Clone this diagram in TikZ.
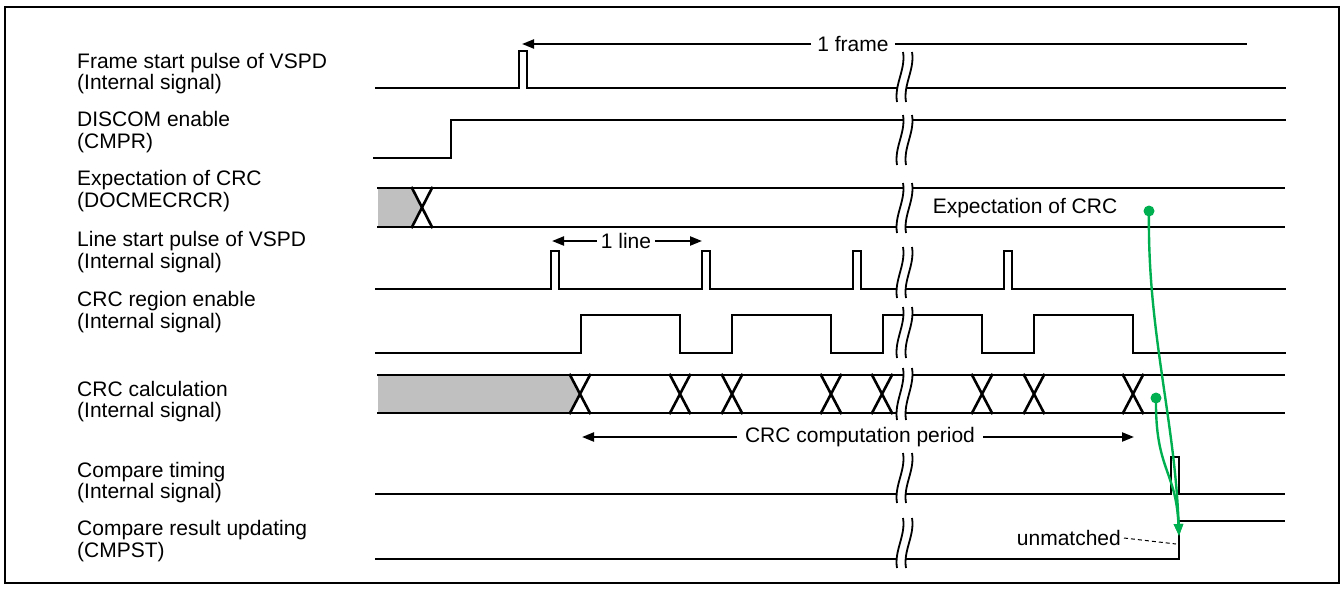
\documentclass[tikz,border=0pt]{standalone}
\usepackage{fontspec}
\setmainfont{Liberation Sans}
\usetikzlibrary{arrows.meta}
\definecolor{busgray}{RGB}{192,192,192}
\definecolor{linkgreen}{RGB}{0,176,80}
\tikzset{
  lbl/.style={anchor=west, align=left, inner sep=0pt, font=\fontsize{21}{21.5}\selectfont},
  txt/.style={inner sep=0pt, font=\fontsize{21}{21.5}\selectfont},
  sig/.style={line width=2.6pt, line join=miter, line cap=rect},
  dim/.style={line width=2.2pt, -{Triangle[length=12pt,width=9pt]}},
  dimplain/.style={line width=2.2pt},
  glink/.style={draw=linkgreen, line width=2.4pt, -{Triangle[length=12pt,width=9pt]}},
  gdot/.style={circle, fill=linkgreen, inner sep=0pt, minimum size=11pt},
}
% break mark across a waveform: two S-shaped strokes with a white gap between them
\newcommand\tbreak[3]{%
  \fill[white] (#1+1,#2) .. controls (#1+4,#2+0.35*#3-0.35*#2) and (#1-8,#2+0.65*#3-0.65*#2) .. (#1-5,#3)
    -- (#1+4,#3) .. controls (#1+1,#2+0.65*#3-0.65*#2) and (#1+13,#2+0.35*#3-0.35*#2) .. (#1+10,#2) -- cycle;
  \draw[line width=1.8pt] (#1+1,#2) .. controls (#1+4,#2+0.35*#3-0.35*#2) and (#1-8,#2+0.65*#3-0.65*#2) .. (#1-5,#3);
  \draw[line width=1.8pt] (#1+10,#2) .. controls (#1+13,#2+0.35*#3-0.35*#2) and (#1+1,#2+0.65*#3-0.65*#2) .. (#1+4,#3);
}
\begin{document}
\begin{tikzpicture}[x=1pt, y=-1pt]
\useasboundingbox (0,0) rectangle (1344,589);
\fill[white] (0,0) rectangle (1344,589);
\draw[line width=2.8pt] (5,7) rectangle (1339,583);

% signal names
\node[lbl] (n1) at (77,73.5) {Frame start pulse of VSPD\\(Internal signal)};
\node[lbl] (n2) at (77,132) {DISCOM enable\\(CMPR)};
\node[lbl] (n3) at (77,191) {Expectation of CRC\\(DOCMECRCR)};
\node[lbl] (n4) at (77,252) {Line start pulse of VSPD\\(Internal signal)};
\node[lbl] (n5) at (77,312) {CRC region enable\\(Internal signal)};
\node[lbl] (n6) at (77,401.5) {CRC calculation\\(Internal signal)};
\node[lbl] (n7) at (77,482.5) {Compare timing\\(Internal signal)};
\node[lbl] (n8) at (77,541) {Compare result updating\\(CMPST)};

% frame start pulse
\draw[sig] (376,88) -- (519,88) -- (519,51) -- (527,51) -- (527,88) -- (1285,88);
% DISCOM enable
\draw[sig] (374,158) -- (451,158) -- (451,120) -- (1285,120);
% expectation of CRC bus
\fill[busgray] (378,188) -- (412,188) -- (422,207.5) -- (412,227) -- (378,227) -- cycle;
\draw[sig] (378,188) -- (1284,188);
\draw[sig] (378,227) -- (1284,227);
\draw[sig] (412,188) -- (432,227);
\draw[sig] (412,227) -- (432,188);
% line start pulses
\draw[sig] (376,289)
  \foreach \p in {551,702,853,1004} { -- (\p,289) -- (\p,251) -- (\p+8,251) -- (\p+8,289) }
  -- (1285,289);
% CRC region enable
\draw[sig] (376,353) -- (581,353)
  \foreach \r/\f in {581/680,732/831,883/982,1034/1133} { -- (\r,353) -- (\r,315) -- (\f,315) -- (\f,353) }
  -- (1285,353);
% CRC calculation bus
\fill[busgray] (378,375) -- (570,375) -- (580,394) -- (570,413) -- (378,413) -- cycle;
\draw[sig] (378,375) -- (1284,375);
\draw[sig] (378,413) -- (1284,413);
\foreach \c in {580,680,732,831,882,982,1034,1133} {
  \draw[sig] (\c-10,375) -- (\c+10,413);
  \draw[sig] (\c-10,413) -- (\c+10,375);
}
% compare timing
\draw[sig] (376,494) -- (1171,494) -- (1171,457) -- (1179,457) -- (1179,494) -- (1284,494);
% compare result
\draw[sig] (376,559) -- (1179,559) -- (1179,521) -- (1284,521);

% time breaks
\tbreak{902}{52}{102}
\tbreak{902}{115}{165}
\tbreak{902}{183}{233}
\tbreak{902}{247}{298}
\tbreak{902}{307}{358}
\tbreak{902}{368}{420}
\tbreak{902}{453}{503}
\tbreak{902}{518}{568}

% dimension arrows
\node[txt, inner xsep=6pt] (frm) at (853,44) {1 frame};
\coordinate (frmL) at (522,44);
\coordinate (frmR) at (1247,44);
\draw[dim] (frm.west) -- (frmL);
\draw[dimplain] (frm.east) -- (frmR);

\node[txt, inner xsep=4pt] (lin) at (626,241) {1 line};
\coordinate (linL) at (552,241);
\coordinate (linR) at (702,241);
\draw[dim] (lin.west) -- (linL);
\draw[dim] (lin.east) -- (linR);

\node[txt, inner xsep=8pt] (per) at (860,437) {CRC computation period};
\coordinate (perL) at (582,437);
\coordinate (perR) at (1134,437);
\draw[dim] (per.west) -- (perL);
\draw[dim] (per.east) -- (perR);

% value and result labels
\node[txt] (exv) at (1025,208) {Expectation of CRC};
\node[txt, anchor=east, inner xsep=3pt] (unm) at (1124,538) {unmatched};
\coordinate (unmT) at (1176,544);
\draw[dashed, line width=1pt, dash pattern=on 4pt off 3pt] (unm.east) -- (unmT);

% comparison links
\node[gdot] (gA) at (1149,211) {};
\node[gdot] (gB) at (1156,398) {};
\coordinate (gT) at (1179,536);
\draw[glink] (gA.center) .. controls (1147,330) and (1175,420) .. (gT);
\draw[glink] (gB.center) .. controls (1155,470) and (1176,470) .. (gT);
\end{tikzpicture}
\end{document}
